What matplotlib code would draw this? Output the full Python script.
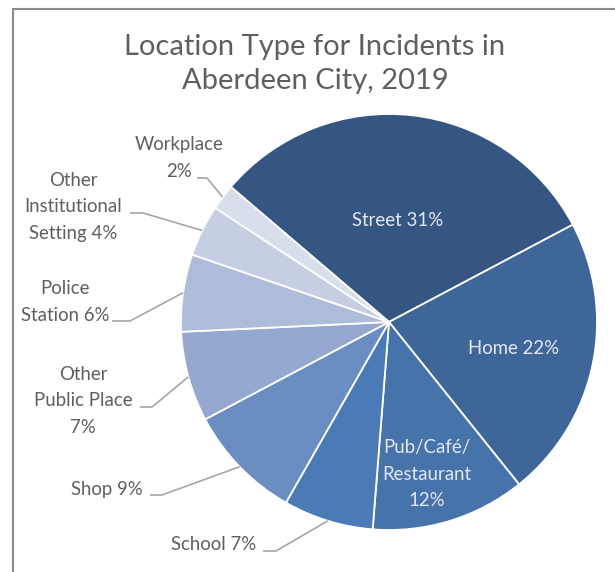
import numpy as np
import matplotlib
matplotlib.use("Agg")
import matplotlib.pyplot as plt
from matplotlib.patches import Rectangle

# data, in pie order (clockwise from the top-left)
labels = ["Street", "Home", "Pub/Café/\nRestaurant", "School", "Shop",
          "Other\nPublic Place", "Police\nStation", "Other\nInstitutional\nSetting",
          "Workplace"]
values = [31, 22, 12, 7, 9, 7, 6, 4, 2]
colors = ["#355683", "#3E6698", "#4673A9", "#4A7BB6", "#6A8DC2",
          "#94A8D0", "#ADBCD9", "#C5CEE2", "#D8DEEC"]

W, H = 615, 572
fig = plt.figure(figsize=(W / 100, H / 100), dpi=100)
ax = fig.add_axes([0, 0, 1, 1])

cx, cy, R = 389, H - 322, 208
wedges, _ = ax.pie(values, colors=colors, startangle=139.5, counterclock=False,
                   center=(cx, cy), radius=R, frame=True,
                   wedgeprops=dict(edgecolor="white", linewidth=1.3))
ax.set_xlim(0, W)
ax.set_ylim(0, H)
ax.set_aspect("equal")
ax.axis("off")

fam = ["Lato", "DejaVu Sans"]
txtcol = "#5F5F5F"
fs = 13.4
ls = 1.7

# labels inside the big slices: (index, x, y) in pixels from the top
inside = {0: (398, 221), 1: (514, 348), 2: (427, 474)}
for i, (x, y) in inside.items():
    s = f"{labels[i]}\n{values[i]}%" if i == 2 else f"{labels[i]} {values[i]}%"
    ax.text(x, H - y, s, ha="center", va="center", color="#E4E8F0",
            fontsize=fs, family=fam, linespacing=ls)

# outside labels: index -> (text x, text y, elbow x, elbow y, line start x)
outside = {
    3: (214, 545, 276, 551, 263, "School 7%"),
    4: (107, 489, 162, 495, 150, "Shop 9%"),
    5: (83, 401, 152, 407, 140, "Other\nPublic Place\n7%"),
    6: (65, 302, 130, 321, 112, "Police\nStation 6%"),
    7: (73, 207, 143, 213, 130, "Other\nInstitutional\nSetting 4%"),
    8: (179, 158, 207, 178, 197, "Workplace\n2%"),
}
for i, (tx, ty, ex, ey, sx, s) in outside.items():
    w = wedges[i]
    mid = np.deg2rad((w.theta1 + w.theta2) / 2)
    px, py = cx + R * np.cos(mid), cy + R * np.sin(mid)
    ax.plot([sx, ex, px], [H - ey, H - ey, py], color="#A6A6A6", lw=1.2,
            solid_capstyle="butt")
    ax.text(tx, H - ty, s, ha="center", va="center", color=txtcol,
            fontsize=fs, family=fam, linespacing=ls)

ax.text(315, H - 64, "Location Type for Incidents in\nAberdeen City, 2019",
        ha="center", va="center", color=txtcol, fontsize=21, family=fam,
        linespacing=1.38)

fig.patches.append(Rectangle((13 / W, -0.1), 1.2, (H - 9) / H + 0.1,
                             transform=fig.transFigure, fill=False,
                             edgecolor="#8A8A8A", lw=1.5))

fig.savefig("out.png", dpi=100)
